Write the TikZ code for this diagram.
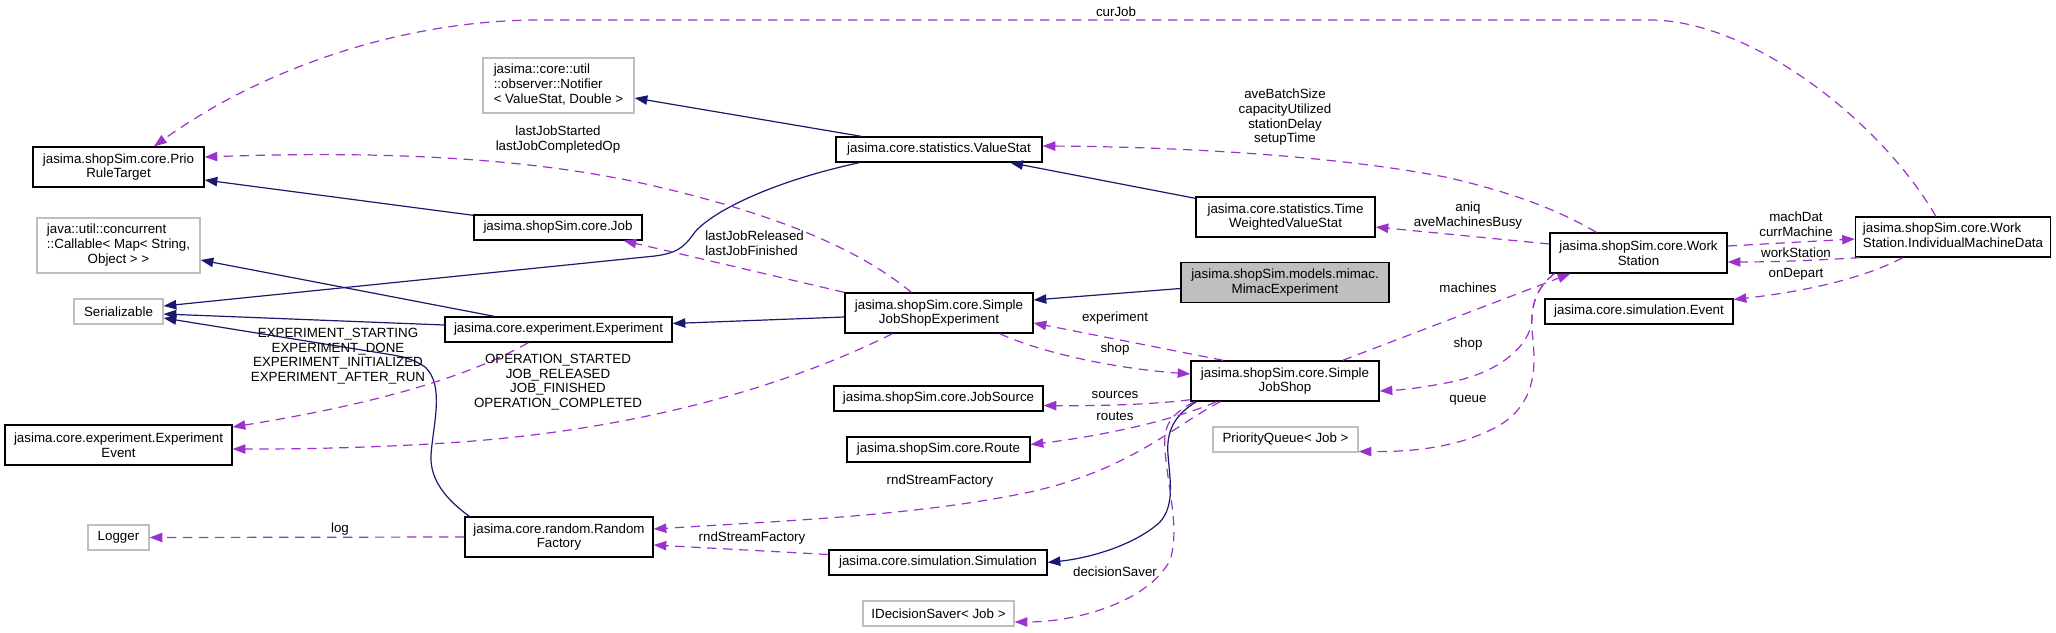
\documentclass[tikz,border=0pt]{standalone}
\usepackage{fontspec}
\setmainfont{Liberation Sans}
\usetikzlibrary{arrows.meta,calc}

\definecolor{inhblue}{HTML}{191970}
\definecolor{usepurple}{HTML}{9A32CD}
\definecolor{extgray}{HTML}{BFBFBF}

\newcommand{\lbfont}{\fontsize{10}{11}\selectfont}
% left aligned lines, last line centred
\newcommand{\lcline}[2]{\begin{tabular}{@{}l@{}}#1\\\multicolumn{1}{@{}c@{}}{#2}\end{tabular}}

\tikzset{
  cls/.style={draw=black, line width=1pt, fill=white, inner sep=0pt, align=center, font=\lbfont},
  ext/.style={cls, draw=extgray},
  mainbox/.style={cls, fill=extgray},
  bw/.style={minimum width=#1*0.75pt},
  bh/.style={minimum height=#1*0.75pt},
  inherit/.style={draw=inhblue, line width=0.9pt, -{Triangle[length=9.5pt,width=7pt]}},
  usage/.style={draw=usepurple, line width=0.9pt, dash pattern=on 7pt off 5pt, -{Triangle[length=9.5pt,width=7pt]}},
  edgelbl/.style={inner sep=0pt, align=center, font=\lbfont}
}

\begin{document}
\begin{tikzpicture}[x=0.75pt,y=-0.75pt]
\useasboundingbox (0,0) rectangle (2056,632);

% Clases, columna izquierda
\node [cls, bw=171, bh=40] (prio) at (118.5,167) {jasima.shopSim.core.Prio\\RuleTarget};
\node [ext, bw=163, bh=55] (callable) at (118.5,245.5) {\lcline{java::util::concurrent\\::Callable< Map< String,}{Object > >}};
\node [ext, bw=89, bh=25] (serializable) at (118.5,311.5) {Serializable};
\node [cls, bw=227, bh=40] (expevent) at (118.5,445) {jasima.core.experiment.Experiment\\Event};
\node [ext, bw=61, bh=25] (logger) at (118.5,537.5) {Logger};

% Segunda columna
\node [ext, bw=151, bh=55] (notifier) at (558.5,85.5) {\lcline{jasima::core::util\\::observer::Notifier}{< ValueStat, Double >}};
\node [cls, bw=168, bh=25] (job) at (558,227.5) {jasima.shopSim.core.Job};
\node [cls, bw=227, bh=25] (experiment) at (558.5,329.5) {jasima.core.experiment.Experiment};
\node [cls, bw=188, bh=40] (rndfactory) at (559,537) {jasima.core.random.Random\\Factory};

% Tercera columna
\node [cls, bw=206, bh=25] (valuestat) at (939,149.5) {jasima.core.statistics.ValueStat};
\node [cls, bw=188, bh=40] (sjse) at (939,313) {jasima.shopSim.core.Simple\\JobShopExperiment};
\node [cls, bw=209, bh=25] (jobsource) at (938.5,398.5) {jasima.shopSim.core.JobSource};
\node [cls, bw=183, bh=25] (route) at (938.5,449.5) {jasima.shopSim.core.Route};
\node [cls, bw=218, bh=25] (simulation) at (938,562.5) {jasima.core.simulation.Simulation};
\node [ext, bw=151, bh=25] (decsaver) at (938.5,613.5) {IDecisionSaver< Job >};

% Cuarta columna
\node [cls, bw=179, bh=40] (twvs) at (1285.5,217) {jasima.core.statistics.Time\\WeightedValueStat};
\node [mainbox, bw=208, bh=40] (mimac) at (1285,282.5) {jasima.shopSim.models.mimac.\\MimacExperiment};
\node [cls, bw=188, bh=40] (sjs) at (1285,381) {jasima.shopSim.core.Simple\\JobShop};
\node [ext, bw=145, bh=25] (pqueue) at (1285.5,439.5) {PriorityQueue< Job >};

% Columnas derechas
\node [cls, bw=177, bh=40] (workstation) at (1638.5,253) {jasima.shopSim.core.Work\\Station};
\node [cls, bw=188, bh=25] (event) at (1639,311.5) {jasima.core.simulation.Event};
\node [cls, bw=195, bh=40] (imd) at (1953,237) {\lcline{jasima.shopSim.core.Work}{Station.IndividualMachineData}};

% Herencia
\draw [inherit] ($(valuestat.north west)+(26,0)$) -- ($(notifier.east)+(0,12.5)$);
\draw [inherit] ($(twvs.north west)+(0,2)$) -- ($(valuestat.south west)+(175,0)$);
\draw [inherit] ($(job.north west)+(0,1)$) -- ($(prio.east)+(0,13)$);
\draw [inherit] ($(experiment.north west)+(50,0)$) -- ($(callable.east)+(0,14.5)$);
\draw [inherit] ($(experiment.west)+(0,-4.5)$) -- ($(serializable.east)+(0,2.5)$);
\draw [inherit] ($(valuestat.south west)+(24,0)$) .. controls (770,182) and (712,212) .. (695,232) .. controls (683,249) and (676,253) .. (655,256) -- ($(serializable.east)+(0,-5.5)$);
\draw [inherit] ($(rndfactory.north west)+(5,0)$) .. controls (440,495) and (430,475) .. (431,455) .. controls (433,425) and (445,385) .. (425,367) .. controls (415,360) and (405,357) .. (393,355) -- ($(serializable.east)+(0,6.5)$);
\draw [inherit] ($(sjse.west)+(0,4)$) -- ($(experiment.east)+(0,-6)$);
\draw [inherit] ($(mimac.west)+(0,6)$) -- ($(sjse.east)+(0,-13)$);
\draw [inherit] ($(sjs.south west)+(6,0)$) .. controls (1175,415) and (1166,430) .. (1168,455) .. controls (1170,480) and (1175,505) .. (1160,522) .. controls (1135,545) and (1090,558) .. (simulation.east);

% Uso
\draw [usage] ($(imd.north west)+(81,0)$) .. controls (1880,120) and (1750,20) .. (1650,20) -- (540,20) .. controls (400,20) and (260,70) .. ($(prio.north)+(35.5,0)$);
\draw [usage] ($(sjse.north west)+(67,0)$) .. controls (860,250) and (780,215) .. (650,185) .. controls (540,160) and (400,150) .. ($(prio.east)+(0,-10)$);
\draw [usage] (sjse.north west) -- ($(job.south east)+(-19,0)$);
\draw [usage] ($(experiment.south west)+(84,0)$) .. controls (480,370) and (400,400) .. ($(expevent.east)+(0,-18)$);
\draw [usage] ($(sjse.south west)+(48,0)$) .. controls (800,380) and (650,430) .. (446,443) .. controls (350,449) and (280,449) .. ($(expevent.east)+(0,4)$);
\draw [usage] ($(sjs.north west)+(33,0)$) -- ($(sjse.east)+(0,10)$);
\draw [usage] ($(sjse.south east)+(-34,0)$) .. controls (1040,352) and (1110,368) .. ($(sjs.west)+(0,-7)$);
\draw [usage] ($(sjs.south west)+(0,-2)$) .. controls (1150,405) and (1090,406) .. ($(jobsource.east)+(0,7)$);
\draw [usage] ($(sjs.south west)+(26,0)$) .. controls (1180,418) and (1110,435) .. ($(route.east)+(0,-5)$);
\draw [usage] ($(sjs.south west)+(30,0)$) .. controls (1175,425) and (1130,470) .. (1030,492) .. controls (920,515) and (800,520) .. ($(rndfactory.east)+(0,-8)$);
\draw [usage] ($(simulation.west)+(0,-8)$) -- ($(rndfactory.east)+(0,8)$);
\draw [usage] (rndfactory.west) -- (logger.east);
\draw [usage] ($(sjs.south west)+(4,0)$) .. controls (1170,415) and (1163,425) .. (1165,450) .. controls (1168,490) and (1180,530) .. (1170,560) .. controls (1150,600) and (1080,622) .. ($(decsaver.east)+(0,8.5)$);
\draw [usage] ($(workstation.north west)+(47,0)$) .. controls (1550,205) and (1500,190) .. (1450,178) .. controls (1350,158) and (1200,147) .. ($(valuestat.east)+(0,-3.5)$);
\draw [usage] ($(workstation.west)+(0,-9)$) -- ($(twvs.east)+(0,10)$);
\draw [usage] ($(workstation.east)+(0,-7)$) -- ($(imd.west)+(0,2)$);
\draw [usage] ($(imd.south west)+(5,0)$) .. controls (1820,260) and (1780,262) .. ($(workstation.east)+(0,9)$);
\draw [usage] ($(imd.south west)+(48,0)$) .. controls (1860,280) and (1800,292) .. ($(event.east)+(0,-12)$);
\draw [usage] ($(sjs.north east)+(-37,0)$) -- ($(workstation.south west)+(21,0)$);
\draw [usage] ($(workstation.south west)+(5,0)$) .. controls (1540,285) and (1532,300) .. (1532,320) .. controls (1530,345) and (1500,375) .. (1440,384) .. controls (1420,388) and (1400,390) .. ($(sjs.east)+(0,10)$);
\draw [usage] ($(workstation.south west)+(5,0)$) .. controls (1540,285) and (1530,300) .. (1532,330) .. controls (1535,360) and (1540,400) .. (1500,425) .. controls (1460,448) and (1410,452) .. ($(pqueue.east)+(0,12)$);

% Etiquetas
\node [edgelbl] (lCurJob) at (1116,12) {curJob};
\node [edgelbl] (lStarted) at (558,139.5) {lastJobStarted\\lastJobCompletedOp};
\node [edgelbl, anchor=west, align=left] (lReleased) at (705,243.5) {lastJobReleased\\lastJobFinished};
\node [edgelbl] (lExpEvents) at (338,356) {EXPERIMENT\_STARTING\\EXPERIMENT\_DONE\\EXPERIMENT\_INITIALIZED\\EXPERIMENT\_AFTER\_RUN};
\node [edgelbl] (lShopEvents) at (558,382) {OPERATION\_STARTED\\JOB\_RELEASED\\JOB\_FINISHED\\OPERATION\_COMPLETED};
\node [edgelbl] (lStats) at (1285,117.5) {aveBatchSize\\capacityUtilized\\stationDelay\\setupTime};
\node [edgelbl] (lAniq) at (1468,215.5) {aniq\\aveMachinesBusy};
\node [edgelbl] (lMachDat) at (1796,224) {machDat\\currMachine};
\node [edgelbl] (lWorkStation) at (1796,252.3) {workStation};
\node [edgelbl] (lOnDepart) at (1796,274.7) {onDepart};
\node [edgelbl] (lMachines) at (1468,287.3) {machines};
\node [edgelbl] (lExperiment) at (1115,318) {experiment};
\node [edgelbl] (lShop) at (1115,348.7) {shop};
\node [edgelbl] (lShopWs) at (1468,343.7) {shop};
\node [edgelbl] (lSources) at (1115,395) {sources};
\node [edgelbl] (lRoutes) at (1115,416.7) {routes};
\node [edgelbl] (lQueue) at (1468,400.7) {queue};
\node [edgelbl] (lRndShop) at (940,480.7) {rndStreamFactory};
\node [edgelbl] (lRndSim) at (752,538.3) {rndStreamFactory};
\node [edgelbl] (lDecSaver) at (1115,571.7) {decisionSaver};
\node [edgelbl] (lLog) at (340,528.7) {log};
\end{tikzpicture}
\end{document}
